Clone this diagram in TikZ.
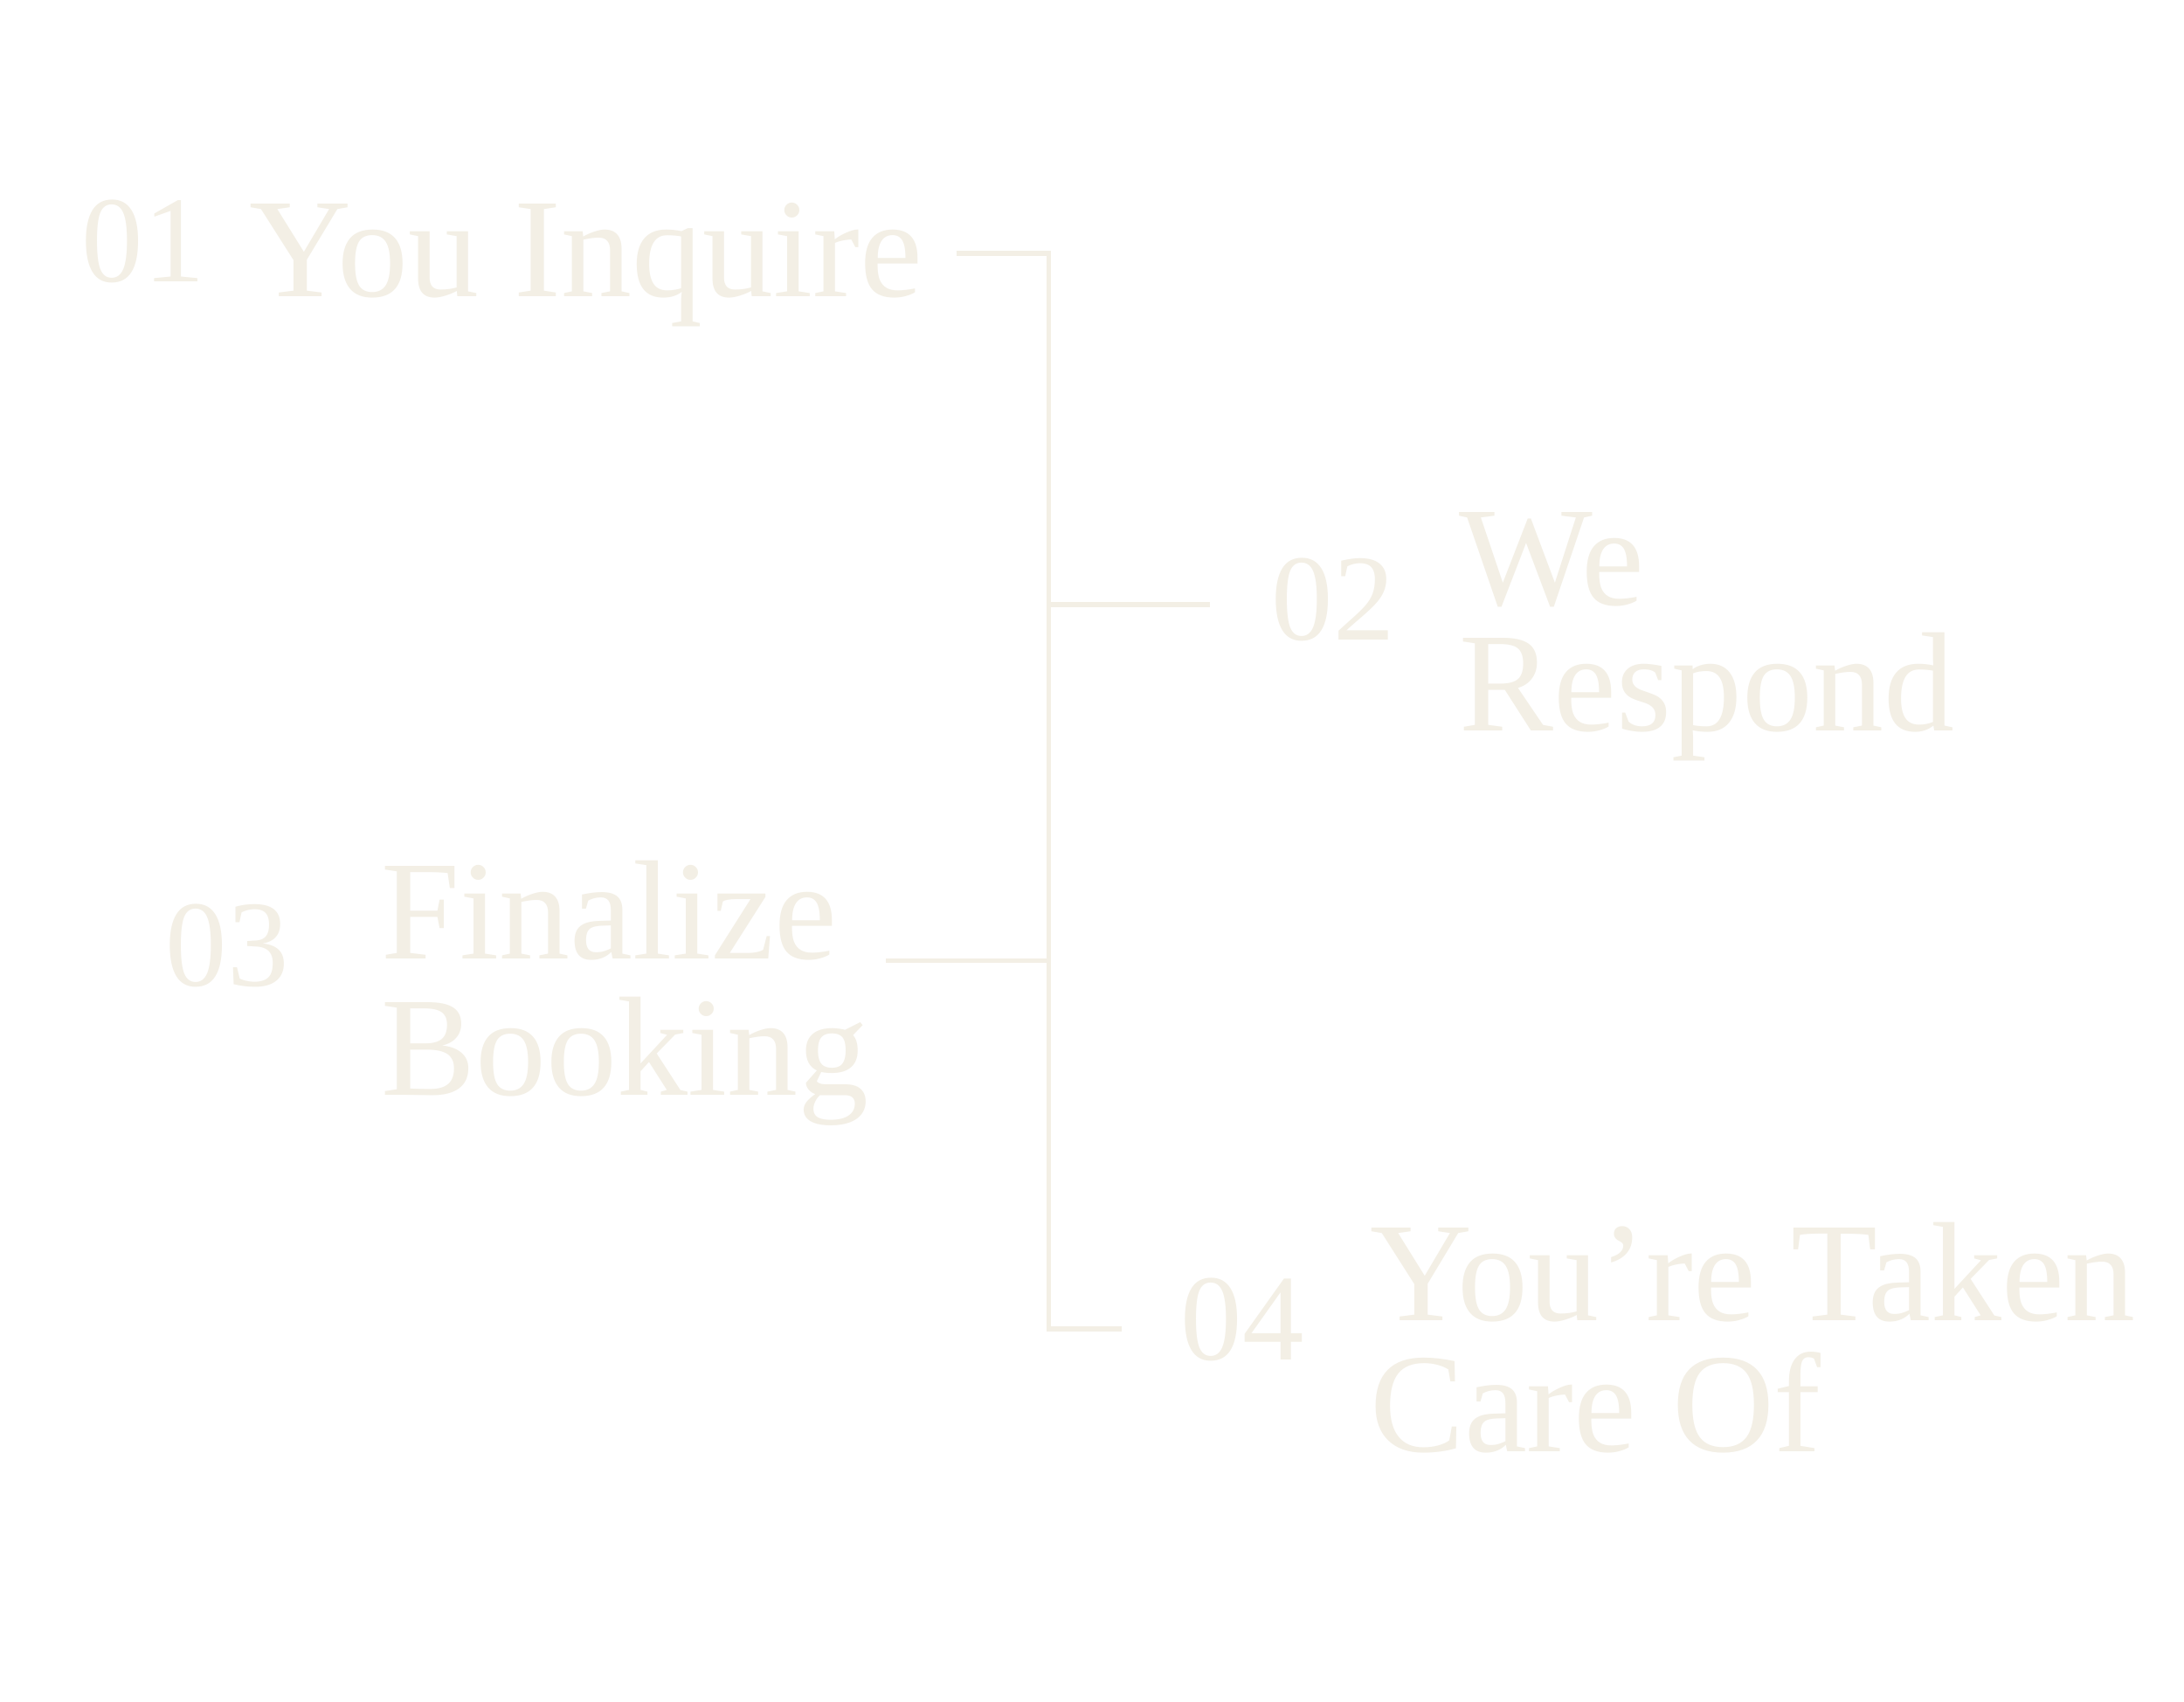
\documentclass[tikz,border=0pt]{standalone}
\usepackage{fontspec}
\setmainfont{Liberation Serif}
\usetikzlibrary{positioning}
\definecolor{cream}{RGB}{243,239,229}
\tikzset{
  stage/.style={text=cream,anchor=base west,inner sep=0pt,font=\fontsize{46}{54}\selectfont},
  num/.style={text=cream,anchor=base west,inner sep=0pt,font=\fontsize{40}{46}\selectfont},
  tree/.style={draw=cream,line width=1.6pt}
}
\begin{document}
\begin{tikzpicture}[x=0.016cm,y=-0.016cm]
  \useasboundingbox[fill=white] (0,0) rectangle (1560,1215);
  % steps
  \node[num] (n1) at (58,201) {01};
  \node[stage] (s1) at (178,212) {You Inquire};
  \node[num] (n2) at (908,457) {02};
  \node[stage] (s2) at (1042,432) {We};
  \node[stage] (s2b) at (1042,522) {Respond};
  \node[num] (n3) at (118,704) {03};
  \node[stage] (s3) at (272,685) {Finalize};
  \node[stage] (s3b) at (272,782) {Booking};
  \node[num] (n4) at (843,971) {04};
  \node[stage] (s4) at (978,943) {You’re Taken};
  \node[stage] (s4b) at (978,1037) {Care Of};
  % connectors
  \coordinate (a1) at (683,181);
  \coordinate (top) at (749,181);
  \coordinate (b2) at (749,432);
  \coordinate (a2) at (864,432);
  \coordinate (b3) at (749,686);
  \coordinate (a3) at (633,686);
  \coordinate (bot) at (749,949);
  \coordinate (a4) at (801,949);
  \draw[tree] (a1) -- (top) -- (bot) -- (a4);
  \draw[tree] (b2) -- (a2);
  \draw[tree] (b3) -- (a3);
\end{tikzpicture}
\end{document}
